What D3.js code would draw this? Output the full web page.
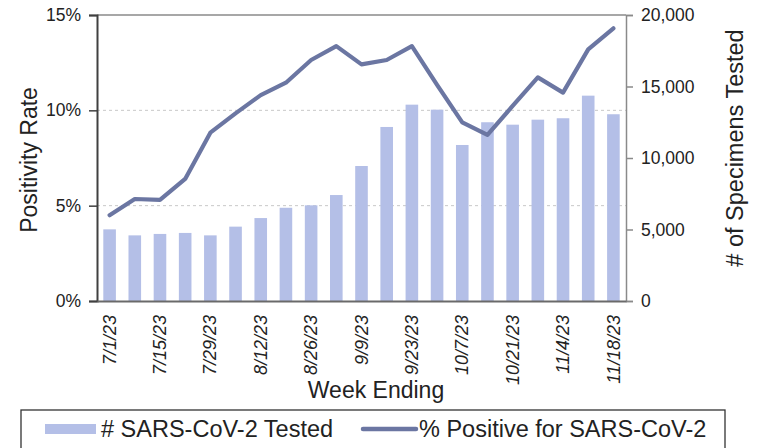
<!DOCTYPE html>
<html>
<head>
<meta charset="utf-8">
<script src="https://cdn.jsdelivr.net/npm/d3@7"></script>
<style>
  html, body { margin: 0; padding: 0; background: #fff; }
  svg { display: block; font-family: "Liberation Sans", Arial, sans-serif; }
</style>
</head>
<body>
<svg id="chart" width="758" height="448"></svg>
<script>
const weeks = ["7/1/23","7/8/23","7/15/23","7/22/23","7/29/23","8/5/23","8/12/23","8/19/23","8/26/23","9/2/23","9/9/23","9/16/23","9/23/23","9/30/23","10/7/23","10/14/23","10/21/23","10/28/23","11/4/23","11/11/23","11/18/23"];
const tested = [5010, 4590, 4690, 4760, 4590, 5200, 5800, 6520, 6690, 7410, 9440, 12170, 13730, 13380, 10910, 12500, 12330, 12680, 12780, 14360, 13060];
const positive = [4.5, 5.35, 5.3, 6.4, 8.83, 9.84, 10.8, 11.45, 12.64, 13.37, 12.41, 12.64, 13.37, 11.33, 9.37, 8.71, 10.23, 11.73, 10.93, 13.2, 14.3];
const xTickLabels = ["7/1/23","7/15/23","7/29/23","8/12/23","8/26/23","9/9/23","9/23/23","10/7/23","10/21/23","11/4/23","11/18/23"];
const leftTicks = [0, 5, 10, 15];
const rightTicks = [0, 5000, 10000, 15000, 20000];
const barLabel = "# SARS-CoV-2 Tested";
const lineLabel = "% Positive for SARS-CoV-2";

const svg = d3.select("#chart");
const L = 97, R = 626, T = 15, B = 301;
const barColor = "#b4bfe7", lineColor = "#6b76a2";

const x = d3.scaleBand().domain(weeks).range([L, R]).paddingInner(0.5).paddingOuter(0.25);
const yL = d3.scaleLinear().domain([0, 15]).range([B, T]);
const yR = d3.scaleLinear().domain([0, 20000]).range([B, T]);

// gridlines
svg.append("g").selectAll("line").data([5, 10]).join("line")
  .attr("x1", L).attr("x2", R).attr("y1", d => yL(d)).attr("y2", d => yL(d))
  .attr("stroke", "#c8c8c8").attr("stroke-width", 1).attr("stroke-dasharray", "3,3");
// top border
svg.append("line").attr("x1", L).attr("x2", R).attr("y1", yL(15)).attr("y2", yL(15))
  .attr("stroke", "#8a8a8a").attr("stroke-width", 1.3);

// bars
svg.append("g").selectAll("rect").data(weeks).join("rect")
  .attr("x", d => x(d)).attr("width", x.bandwidth())
  .attr("y", (d, i) => yR(tested[i])).attr("height", (d, i) => B - yR(tested[i]))
  .attr("fill", barColor);

// line
const line = d3.line().x((d, i) => x(weeks[i]) + x.bandwidth() / 2).y(d => yL(d));
svg.append("path").datum(positive).attr("d", line)
  .attr("fill", "none").attr("stroke", lineColor).attr("stroke-width", 4.2)
  .attr("stroke-linejoin", "round").attr("stroke-linecap", "round");

// axes
const axL = svg.append("g").attr("transform", `translate(${L},0)`)
  .call(d3.axisLeft(yL).tickValues(leftTicks).tickFormat(d => d + "%").tickSize(8).tickPadding(8));
axL.select(".domain").attr("stroke", "#404040").attr("stroke-width", 2);
axL.selectAll(".tick line").attr("stroke", "#404040").attr("stroke-width", 1.5);
axL.selectAll("text").attr("font-size", "17.5px").attr("fill", "#222").attr("font-family", "Liberation Sans, Arial, sans-serif");

const axR = svg.append("g").attr("transform", `translate(${R},0)`)
  .call(d3.axisRight(yR).tickValues(rightTicks).tickFormat(d3.format(",")).tickSize(7).tickPadding(8));
axR.select(".domain").attr("stroke", "#8a8a8a").attr("stroke-width", 1.5);
axR.selectAll(".tick line").attr("stroke", "#8a8a8a").attr("stroke-width", 1.5);
axR.selectAll("text").attr("font-size", "17.5px").attr("fill", "#222").attr("font-family", "Liberation Sans, Arial, sans-serif");

const axB = svg.append("g").attr("transform", `translate(0,${B})`)
  .call(d3.axisBottom(x).tickValues(xTickLabels).tickSize(0).tickPadding(0));
axB.select(".domain").attr("stroke", "#6a6a6a").attr("stroke-width", 2);
axB.selectAll("text")
  .attr("font-size", "18px").attr("font-style", "italic").attr("fill", "#222").attr("font-family", "Liberation Sans, Arial, sans-serif")
  .attr("transform", "rotate(-90)")
  .attr("text-anchor", "end")
  .attr("x", -14).attr("y", 0).attr("dy", "0.34em");

// axis titles
svg.append("text").attr("transform", `translate(37,${(T + B) / 2 + 2}) rotate(-90)`)
  .attr("text-anchor", "middle").attr("font-size", "23px").attr("fill", "#222")
  .text("Positivity Rate");
svg.append("text").attr("transform", `translate(743,${148}) rotate(-90)`)
  .attr("text-anchor", "middle").attr("font-size", "23.5px").attr("fill", "#222")
  .text("# of Specimens Tested");
svg.append("text").attr("x", 376).attr("y", 398)
  .attr("text-anchor", "middle").attr("font-size", "23px").attr("fill", "#222")
  .text("Week Ending");

// legend
svg.append("rect").attr("x", 21).attr("y", 410).attr("width", 704).attr("height", 44)
  .attr("fill", "#fff").attr("stroke", "#333").attr("stroke-width", 1.3);
svg.append("rect").attr("x", 45).attr("y", 424).attr("width", 51).attr("height", 10).attr("fill", barColor);
svg.append("text").attr("x", 101).attr("y", 437).attr("font-size", "23.5px").attr("fill", "#222").text(barLabel);
svg.append("line").attr("x1", 363).attr("x2", 416).attr("y1", 429).attr("y2", 429)
  .attr("stroke", lineColor).attr("stroke-width", 4.5).attr("stroke-linecap", "round");
svg.append("text").attr("x", 419).attr("y", 437).attr("font-size", "23.5px").attr("fill", "#222").text(lineLabel);
</script>
</body>
</html>
